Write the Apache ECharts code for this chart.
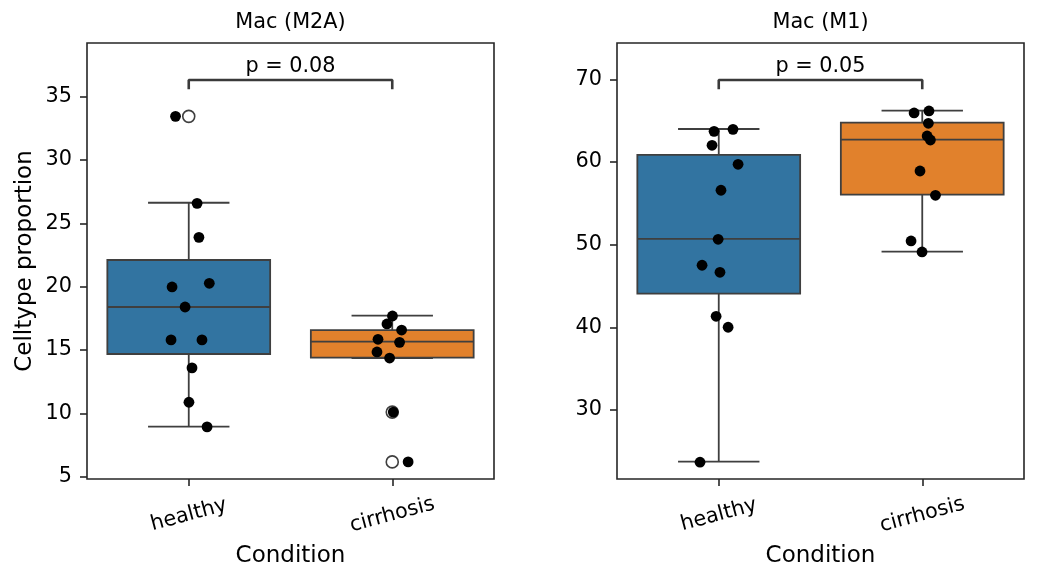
<!DOCTYPE html>
<html>
<head>
<meta charset="utf-8">
<script src="https://cdn.jsdelivr.net/npm/echarts@6/dist/echarts.min.js"></script>
<style>
  html, body { margin: 0; padding: 0; background: #fff; }
  #main { width: 1038px; height: 582px; }
</style>
</head>
<body>
<div id="main"></div>
<script>
const conditions = ['healthy', 'cirrhosis'];
const boxColors = ['#3274a1', '#e1812c'];

// Mac (M2A)
const m2aTicks = [5, 10, 15, 20, 25, 30, 35];
// [lower whisker, Q1, median, Q3, upper whisker]
const m2aBoxes = [
    [8.95, 14.69, 18.40, 22.11, 26.63],
    [14.37, 14.40, 15.66, 16.58, 17.71]
];
const m2aHealthy = [33.45, 26.58, 23.90, 20.27, 19.98, 18.40, 15.80, 15.80, 13.59, 10.88, 8.93];
const m2aHealthyJitter = [-0.065, 0.041, 0.050, 0.101, -0.082, -0.018, -0.087, 0.065, 0.016, 0.001, 0.090];
const m2aCirrhosis = [17.69, 17.06, 16.58, 15.85, 15.61, 14.85, 14.37, 10.10, 6.17];
const m2aCirrhosisJitter = [0.001, -0.026, 0.046, -0.070, 0.036, -0.075, -0.013, 0.005, 0.078];
const m2aOutliers = [[0, 33.45], [1, 10.10], [1, 6.17]];
const m2aBracket = [35.58, 36.32];
const m2aP = 'p = 0.08';

// Mac (M1)
const m1Ticks = [30, 40, 50, 60, 70];
const m1Boxes = [
    [23.76, 44.07, 50.69, 60.85, 63.99],
    [49.15, 56.05, 62.70, 64.75, 66.20]
];
const m1Healthy = [63.95, 63.71, 62.02, 59.72, 56.58, 50.65, 47.51, 46.66, 41.34, 40.01, 23.69];
const m1HealthyJitter = [0.070, -0.023, -0.033, 0.095, 0.011, -0.003, -0.082, 0.006, -0.013, 0.046, -0.092];
const m1Cirrhosis = [66.17, 65.93, 64.68, 63.14, 62.66, 58.91, 55.97, 50.45, 49.12];
const m1CirrhosisJitter = [0.033, -0.040, 0.030, 0.024, 0.040, -0.011, 0.065, -0.055, -0.001];
const m1Outliers = [];
const m1Bracket = [68.79, 69.92];
const m1P = 'p = 0.05';

const FONT = 'DejaVu Sans';
const LINE = '#3f3f3f';
const SPINE = '#262626';
const TEXT = '#000';

const myChart = echarts.init(document.getElementById('main'), null, {renderer: 'canvas'});

const panels = [
    {title: 'Mac (M2A)', left: 87, min: 4.82, max: 39.24, ticks: m2aTicks, boxes: m2aBoxes,
        pts: [[m2aHealthy, m2aHealthyJitter], [m2aCirrhosis, m2aCirrhosisJitter]],
        outliers: m2aOutliers, bracket: m2aBracket, p: m2aP, ylabel: 'Celltype proportion'},
    {title: 'Mac (M1)', left: 617, min: 21.66, max: 74.39, ticks: m1Ticks, boxes: m1Boxes,
        pts: [[m1Healthy, m1HealthyJitter], [m1Cirrhosis, m1CirrhosisJitter]],
        outliers: m1Outliers, bracket: m1Bracket, p: m1P, ylabel: ''}
];

const gridW = 407, gridTop = 43, gridH = 436;

const renderBox = (params, api) => {
    const x = api.value(0);
    const lo = api.coord([x, api.value(1)]);
    const q1 = api.coord([x, api.value(2)]);
    const med = api.coord([x, api.value(3)]);
    const q3 = api.coord([x, api.value(4)]);
    const hi = api.coord([x, api.value(5)]);
    const halfW = api.size([0.8, 0])[0] / 2;
    const capW = halfW / 2;
    const cx = q1[0];
    const st = {stroke: LINE, lineWidth: 1.8};
    return {
        type: 'group',
        children: [
            {type: 'line', shape: {x1: cx, y1: lo[1], x2: cx, y2: q1[1]}, style: st},
            {type: 'line', shape: {x1: cx, y1: q3[1], x2: cx, y2: hi[1]}, style: st},
            {type: 'line', shape: {x1: cx - capW, y1: lo[1], x2: cx + capW, y2: lo[1]}, style: st},
            {type: 'line', shape: {x1: cx - capW, y1: hi[1], x2: cx + capW, y2: hi[1]}, style: st},
            {type: 'rect', shape: {x: cx - halfW, y: q3[1], width: halfW * 2, height: q1[1] - q3[1]},
                style: {fill: boxColors[x], stroke: LINE, lineWidth: 1.8}},
            {type: 'line', shape: {x1: cx - halfW, y1: med[1], x2: cx + halfW, y2: med[1]}, style: st}
        ]
    };
};

const grid = [], xAxis = [], yAxis = [], title = [], series = [];

panels.forEach((p, i) => {
    grid.push({left: p.left, top: gridTop, width: gridW, height: gridH, show: true,
        borderColor: SPINE, borderWidth: 1.6, backgroundColor: '#fff'});
    title.push({text: p.title, left: p.left + gridW / 2, top: 12, textAlign: 'center', padding: 0,
        textStyle: {fontFamily: FONT, fontSize: 20.8, fontWeight: 'normal', color: TEXT}});
    xAxis.push({
        type: 'value', gridIndex: i, min: -0.5, max: 1.5,
        name: 'Condition', nameLocation: 'middle', nameGap: 66,
        nameTextStyle: {fontFamily: FONT, fontSize: 23, color: TEXT},
        axisLine: {show: false, onZero: false},
        axisTick: {show: true, length: 7, lineStyle: {color: SPINE, width: 1.6}, customValues: [0, 1]},
        axisLabel: {
            customValues: [0, 1], rotate: 15, align: 'center', verticalAlign: 'middle', margin: 36,
            fontFamily: FONT, fontSize: 20.8, color: TEXT,
            formatter: v => conditions[Math.round(v)]
        },
        splitLine: {show: false}
    });
    yAxis.push({
        type: 'value', gridIndex: i, min: p.min, max: p.max,
        name: p.ylabel, nameLocation: 'middle', nameGap: 50,
        nameTextStyle: {fontFamily: FONT, fontSize: 23, color: TEXT},
        axisLine: {show: false, onZero: false},
        axisTick: {show: true, length: 7, lineStyle: {color: SPINE, width: 1.6}, customValues: p.ticks},
        axisLabel: {customValues: p.ticks, margin: 15, fontFamily: FONT, fontSize: 20.8, color: TEXT},
        splitLine: {show: false}
    });

    series.push({
        type: 'custom', xAxisIndex: i, yAxisIndex: i, z: 2,
        renderItem: renderBox,
        encode: {x: 0, y: [1, 2, 3, 4, 5]},
        data: p.boxes.map((b, k) => [k].concat(b))
    });
    series.push({
        type: 'scatter', xAxisIndex: i, yAxisIndex: i, z: 3, silent: true,
        symbol: 'circle', symbolSize: 12,
        itemStyle: {color: 'rgba(0,0,0,0)', borderColor: LINE, borderWidth: 1.6, opacity: 1},
        data: p.outliers
    });
    p.pts.forEach(([vals, jit], k) => {
        series.push({
            type: 'scatter', xAxisIndex: i, yAxisIndex: i, z: 4, silent: true,
            symbol: 'circle', symbolSize: 10.8,
            itemStyle: {color: '#000', opacity: 1},
            data: vals.map((v, n) => [k + jit[n], v])
        });
    });
    series.push({
        type: 'line', xAxisIndex: i, yAxisIndex: i, z: 5, silent: true,
        symbol: 'none',
        lineStyle: {color: '#3a3a3a', width: 2.6},
        data: [[0, p.bracket[0]], [0, p.bracket[1]], [1, p.bracket[1]], [1, p.bracket[0]]]
    });
    series.push({
        type: 'scatter', xAxisIndex: i, yAxisIndex: i, z: 5, silent: true,
        symbolSize: 0,
        itemStyle: {opacity: 1},
        label: {show: true, position: 'top', distance: 3, formatter: p.p,
            fontFamily: FONT, fontSize: 20.8, color: TEXT, opacity: 1},
        data: [[0.5, p.bracket[1]]]
    });
});

myChart.setOption({
    animation: false,
    backgroundColor: '#fff',
    title: title,
    grid: grid,
    xAxis: xAxis,
    yAxis: yAxis,
    series: series
});
</script>
</body>
</html>
